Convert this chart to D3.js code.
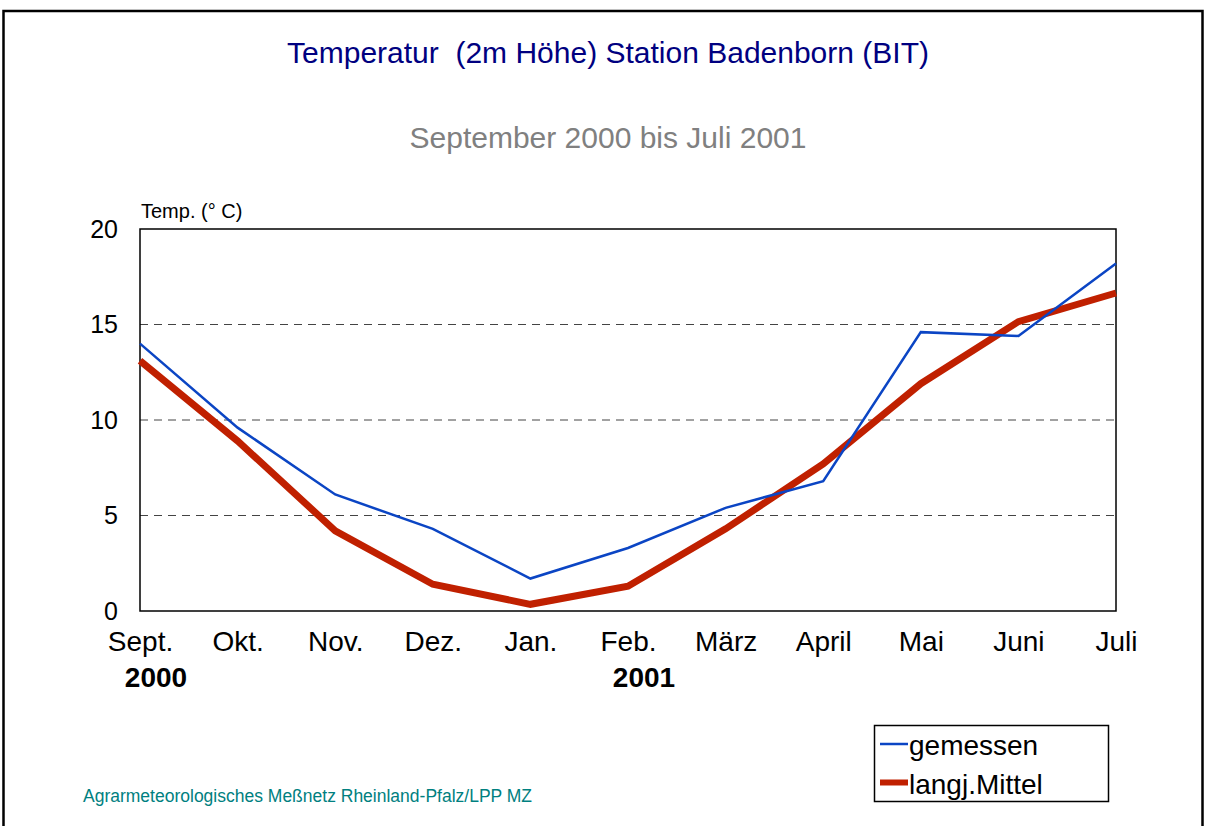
<!DOCTYPE html>
<html>
<head>
<meta charset="utf-8">
<script src="https://cdn.jsdelivr.net/npm/d3@7"></script>
<style>
  body { margin: 0; background: #fff; }
  svg { font-family: "Liberation Sans", Arial, sans-serif; }
</style>
</head>
<body>
<svg id="chart" width="1205" height="826"></svg>
<script>
// data
var months = ["Sept.", "Okt.", "Nov.", "Dez.", "Jan.", "Feb.", "März", "April", "Mai", "Juni", "Juli"]
var gemessen = [14.0, 9.6, 6.1, 4.3, 1.7, 3.3, 5.4, 6.8, 14.6, 14.4, 18.2]
var mittel = [13.1, 8.9, 4.2, 1.4, 0.35, 1.3, 4.3, 7.7, 11.9, 15.15, 16.65]
var yTicks = [0, 5, 10, 15, 20]
var gridTicks = [5, 10, 15]
var yearLabels = [{ idx: 0, text: "2000" }, { idx: 5, text: "2001" }]

const svg = d3.select("#chart")

// page frame
svg.append("rect")
  .attr("x", 3.5).attr("y", 11)
  .attr("width", 1199).attr("height", 830)
  .attr("fill", "none").attr("stroke", "#000").attr("stroke-width", 2.5)

const pLeft = 140, pRight = 1116, pTop = 229, pBottom = 611

const x = d3.scalePoint().domain(months).range([pLeft, pRight])
const y = d3.scaleLinear().domain([0, 20]).range([pBottom, pTop])

// title
svg.append("text")
  .attr("x", 608).attr("y", 63)
  .attr("text-anchor", "middle")
  .attr("fill", "#000080")
  .attr("xml:space", "preserve")
  .style("font-size", "30px")
  .text("Temperatur  (2m Höhe) Station Badenborn (BIT)")

svg.append("text")
  .attr("x", 608).attr("y", 148)
  .attr("text-anchor", "middle")
  .attr("fill", "#808080")
  .style("font-size", "30px")
  .text("September 2000 bis Juli 2001")

// dashed grid lines
svg.append("g").selectAll("line")
  .data(gridTicks)
  .enter()
  .append("line")
  .attr("x1", pLeft).attr("x2", pRight)
  .attr("y1", d => y(d)).attr("y2", d => y(d))
  .attr("stroke", "#444")
  .attr("stroke-width", 1)
  .attr("stroke-dasharray", "8,6")

// plot frame
svg.append("rect")
  .attr("x", pLeft).attr("y", pTop)
  .attr("width", pRight - pLeft).attr("height", pBottom - pTop)
  .attr("fill", "none").attr("stroke", "#000").attr("stroke-width", 1.5)

// y axis labels
const yAxis = svg.append("g")
  .attr("transform", `translate(${pLeft},0)`)
  .call(d3.axisLeft(y).tickValues(yTicks).tickSize(0).tickPadding(22))
yAxis.select(".domain").remove()
yAxis.selectAll("text")
  .style("font-size", "25px")
  .style("font-family", "Liberation Sans, Arial, sans-serif")
  .attr("fill", "#000")

// x axis labels
const xAxis = svg.append("g")
  .attr("transform", `translate(0,${pBottom})`)
  .call(d3.axisBottom(x).tickSize(0))
xAxis.select(".domain").remove()
xAxis.selectAll("text")
  .attr("y", 40)
  .attr("dy", null)
  .style("font-size", "28px")
  .style("font-family", "Liberation Sans, Arial, sans-serif")
  .attr("fill", "#000")

// years under the months
svg.append("g").selectAll("text")
  .data(yearLabels)
  .enter()
  .append("text")
  .attr("x", d => x(months[d.idx]) + 16)
  .attr("y", 687)
  .attr("text-anchor", "middle")
  .style("font-size", "28px")
  .style("font-weight", "bold")
  .text(d => d.text)

// unit label
svg.append("text")
  .attr("x", 141).attr("y", 218)
  .style("font-size", "20px")
  .text("Temp. (° C)")

// lines
const line = d3.line()
  .x((d, i) => x(months[i]))
  .y(d => y(d))

svg.append("path")
  .datum(mittel)
  .attr("d", line)
  .attr("fill", "none")
  .attr("stroke", "#c02000")
  .attr("stroke-width", 7)

svg.append("path")
  .datum(gemessen)
  .attr("d", line)
  .attr("fill", "none")
  .attr("stroke", "#0b45c4")
  .attr("stroke-width", 2.5)

// legend
const legend = svg.append("g")
legend.append("rect")
  .attr("x", 874.5).attr("y", 725.5)
  .attr("width", 234).attr("height", 76)
  .attr("fill", "#fff").attr("stroke", "#000").attr("stroke-width", 1.5)

const legendItems = [
  { name: "gemessen", color: "#0b45c4", w: 2.5 },
  { name: "langj.Mittel", color: "#c02000", w: 6 }
]
legendItems.forEach(function(item, i) {
  const ly = 744 + i * 38.5
  legend.append("line")
    .attr("x1", 880).attr("x2", 908)
    .attr("y1", ly).attr("y2", ly)
    .attr("stroke", item.color).attr("stroke-width", item.w)
  legend.append("text")
    .attr("x", 909).attr("y", ly + 11)
    .style("font-size", "28px")
    .text(item.name)
})

// footer
svg.append("text")
  .attr("x", 83).attr("y", 802)
  .attr("fill", "#008080")
  .style("font-size", "17.5px")
  .text("Agrarmeteorologisches Meßnetz Rheinland-Pfalz/LPP MZ")
</script>
</body>
</html>
